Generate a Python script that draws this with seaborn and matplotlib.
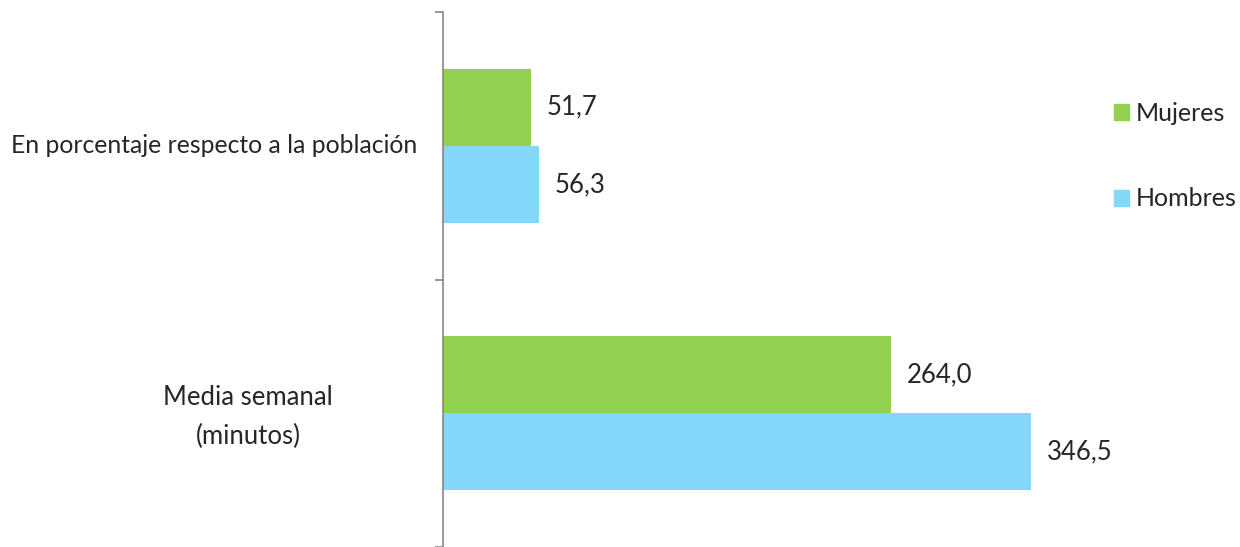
import pandas as pd
import numpy as np
import matplotlib.pyplot as plt
import seaborn as sns
from matplotlib.patches import Patch
from matplotlib.transforms import blended_transform_factory

categories = ['En porcentaje respecto a la población', 'Media semanal\n(minutos)']
mujeres = [51.7, 264.0]
hombres = [56.3, 346.5]
series = ['Mujeres', 'Hombres']
colors = ['#92D050', '#83D7F8']

df = pd.DataFrame({
    'Categoria': categories * 2,
    'Valor': mujeres + hombres,
    'Sexo': [series[0]] * len(categories) + [series[1]] * len(categories),
})

sns.set_style('white')
plt.rcParams['font.family'] = ['Lato', 'DejaVu Sans']
FS = 18.5

W, H = 1240, 547
fig = plt.figure(figsize=(12.4, 5.47), dpi=100)
ax_left, ax_right, ax_top, ax_bot = 443, 1100, 12, 547
ax = fig.add_axes([ax_left / W, 1 - ax_bot / H, (ax_right - ax_left) / W, (ax_bot - ax_top) / H])

sns.barplot(data=df, y='Categoria', x='Valor', hue='Sexo', hue_order=series,
            palette=colors, orient='h', width=0.577, ax=ax, legend=False,
            saturation=1, linewidth=0)

ax.set_xlim(0, (ax_right - ax_left) / 1.697)
ax.set_ylim(len(categories) - 0.5, -0.5)

# value labels
for cont in ax.containers:
    ax.bar_label(cont, labels=[f'{v:.1f}'.replace('.', ',') for v in cont.datavalues],
                 padding=11.5, fontsize=FS)

# axis styling
for s in ['top', 'right', 'bottom']:
    ax.spines[s].set_visible(False)
ax.spines['left'].set_color('#868686')
ax.spines['left'].set_linewidth(1.2)
ax.set_xticks([])
ax.set_xlabel('')
ax.set_ylabel('')
ax.set_yticks(np.arange(len(categories) + 1) - 0.5)
ax.set_yticklabels([])
ax.tick_params(axis='y', length=6, width=1.2, color='#868686', direction='out', left=True)

# category labels
axw = ax_right - ax_left
tr = blended_transform_factory(ax.transAxes, ax.transData)
ax.text((417 - ax_left) / axw, 0, categories[0], transform=tr, ha='right', va='center',
        fontsize=17.8, clip_on=False)
ax.text((248 - ax_left) / axw, 1.015, categories[1], transform=tr, ha='center', va='center',
        multialignment='center', linespacing=1.7, fontsize=FS, clip_on=False)

handles = [Patch(color=c, label=l) for c, l in zip(colors, series)]
fig.legend(handles=handles, loc='upper left', bbox_to_anchor=(1114 / W, 1 - 102 / H),
           frameon=False, fontsize=18, labelspacing=2.5, handlelength=0.6,
           handleheight=0.6, handletextpad=0.25, borderaxespad=0, borderpad=0)

plt.savefig('out.png', dpi=100)
